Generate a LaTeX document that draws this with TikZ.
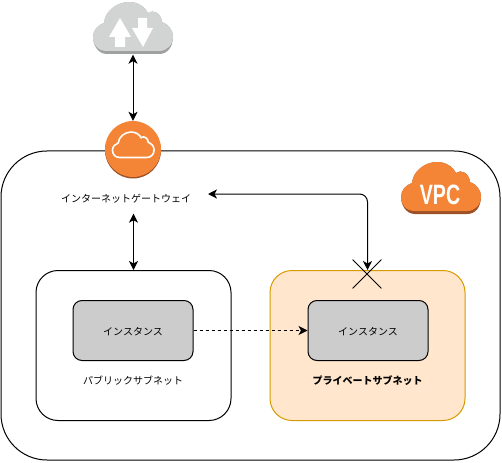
\documentclass[tikz,border=0pt]{standalone}
\usepackage{fontspec}
\setmainfont{Noto Sans CJK JP}
\newfontfamily\vpcfont{Liberation Sans}
\usetikzlibrary{arrows.meta,shapes.misc}

\definecolor{awsorange}{HTML}{F58536}
\definecolor{awsbrown}{HTML}{9D5025}
\definecolor{cloudgray}{HTML}{D2D3D3}
\definecolor{cloudshade}{HTML}{9FA0A0}
\definecolor{privfill}{HTML}{FFE6CC}
\definecolor{privline}{HTML}{D79B00}

\tikzset{
	>={Stealth[length=9pt,width=9pt,inset=2.5pt]},
	subnetbox/.style={draw, line width=1pt, rounded corners=22pt, minimum width=195pt, minimum height=150pt},
	instancebox/.style={draw, line width=1pt, fill=black!20, rounded corners=9pt, minimum width=120pt, minimum height=60pt, text height=10.3pt, text depth=0pt, font=\fontsize{10pt}{12pt}\selectfont},
	caption/.style={font=\fontsize{10pt}{12pt}\selectfont},
	link/.style={line width=1pt}
}

\begin{document}
\begin{tikzpicture}[x=1pt, y=-1pt]
		\newcommand\awscloud[4]{ %% argument 1: shift, argument 2: scale, argument 3: options of the path, argument 4: y-offset
			\draw[shift={#1}, scale=#2, #3] (14,49+#4) .. controls (5,49+#4) and (0,43) .. (0,35)
				.. controls (0,28) and (5,23) .. (11,21) .. controls (12,9) and (24,0) .. (36,0)
				.. controls (45,0) and (52,5) .. (55,11) .. controls (60,7) and (68,11) .. (69,20)
				.. controls (75,22) and (80,28) .. (80,34) .. controls (80,43+#4) and (74,49+#4) .. (66,49+#4) -- cycle;
		}

		\useasboundingbox (0,0) rectangle (502,462);
		\fill[white] (0,0) rectangle (502,462);

		% boxes
		\node[draw, line width=1pt, rounded corners=46pt, minimum width=499pt, minimum height=309pt] (vpc) at (250.5,305.5) {};
		\node[subnetbox] (public) at (133.5,345.5) {};
		\node[subnetbox, fill=privfill, draw=privline] (private) at (367.5,345.5) {};
		\node[instancebox] (pubinst) at (133,330.5) {インスタンス};
		\node[instancebox] (privinst) at (368,330.5) {インスタンス};
		\node[caption] (publabel) at (133,380.5) {パブリックサブネット};
		\node[caption, font=\fontsize{10pt}{12pt}\selectfont\bfseries] (privlabel) at (367.5,380.5) {プライベートサブネット};

		% internet cloud
		\awscloud{(93,2)}{1}{fill=cloudshade, draw=none}{3}
		\awscloud{(93,2)}{1}{fill=cloudgray, draw=none}{0}
		\fill[white] (120,18) -- (131,37) -- (125,37) -- (125,47) -- (115,47) -- (115,37) -- (109,37) -- cycle;
		\fill[white] (143,47) -- (132,28) -- (138,28) -- (138,18) -- (147,18) -- (147,28) -- (153,28) -- cycle;
		\node[minimum width=80pt, minimum height=53pt, inner sep=0pt] (internet) at (133,28) {};

		% gateway
		\fill[awsbrown] (133,150.5) circle (28);
		\node[circle, fill=awsorange, minimum size=56pt, inner sep=0pt] (igw) at (133,149) {};
		\awscloud{(112.5,132)}{0.52}{draw=white, line width=1.6pt, fill=none}{0}
		\node[caption, minimum width=164pt, minimum height=30pt, inner sep=0pt] (igwlabel) at (126,198.5) {インターネットゲートウェイ};
		\coordinate (igwport) at (208,194);

		% vpc cloud
		\awscloud{(401,162)}{1}{fill=awsbrown, draw=none}{3}
		\awscloud{(401,162)}{1}{fill=awsorange, draw=none}{0}
		\node[text=white, xscale=0.7, font=\vpcfont\fontsize{28pt}{28pt}\selectfont\bfseries] (vpctext) at (440,195) {VPC};

		% connectors
		\draw[<->, link] (internet.south) -- (igw.north);
		\draw[<->, link] (public.north |- igwlabel.south) -- (public.north);
		\draw[<->, link, rounded corners=8pt] (igwport) -| (private.north);
		\draw[->, link, dashed] (pubinst.east) -- (privinst.west);

		\node[cross out, draw, line width=0.8pt, minimum size=28pt, inner sep=0pt] (blocked) at (367,274) {};
	\end{tikzpicture}
\end{document}
